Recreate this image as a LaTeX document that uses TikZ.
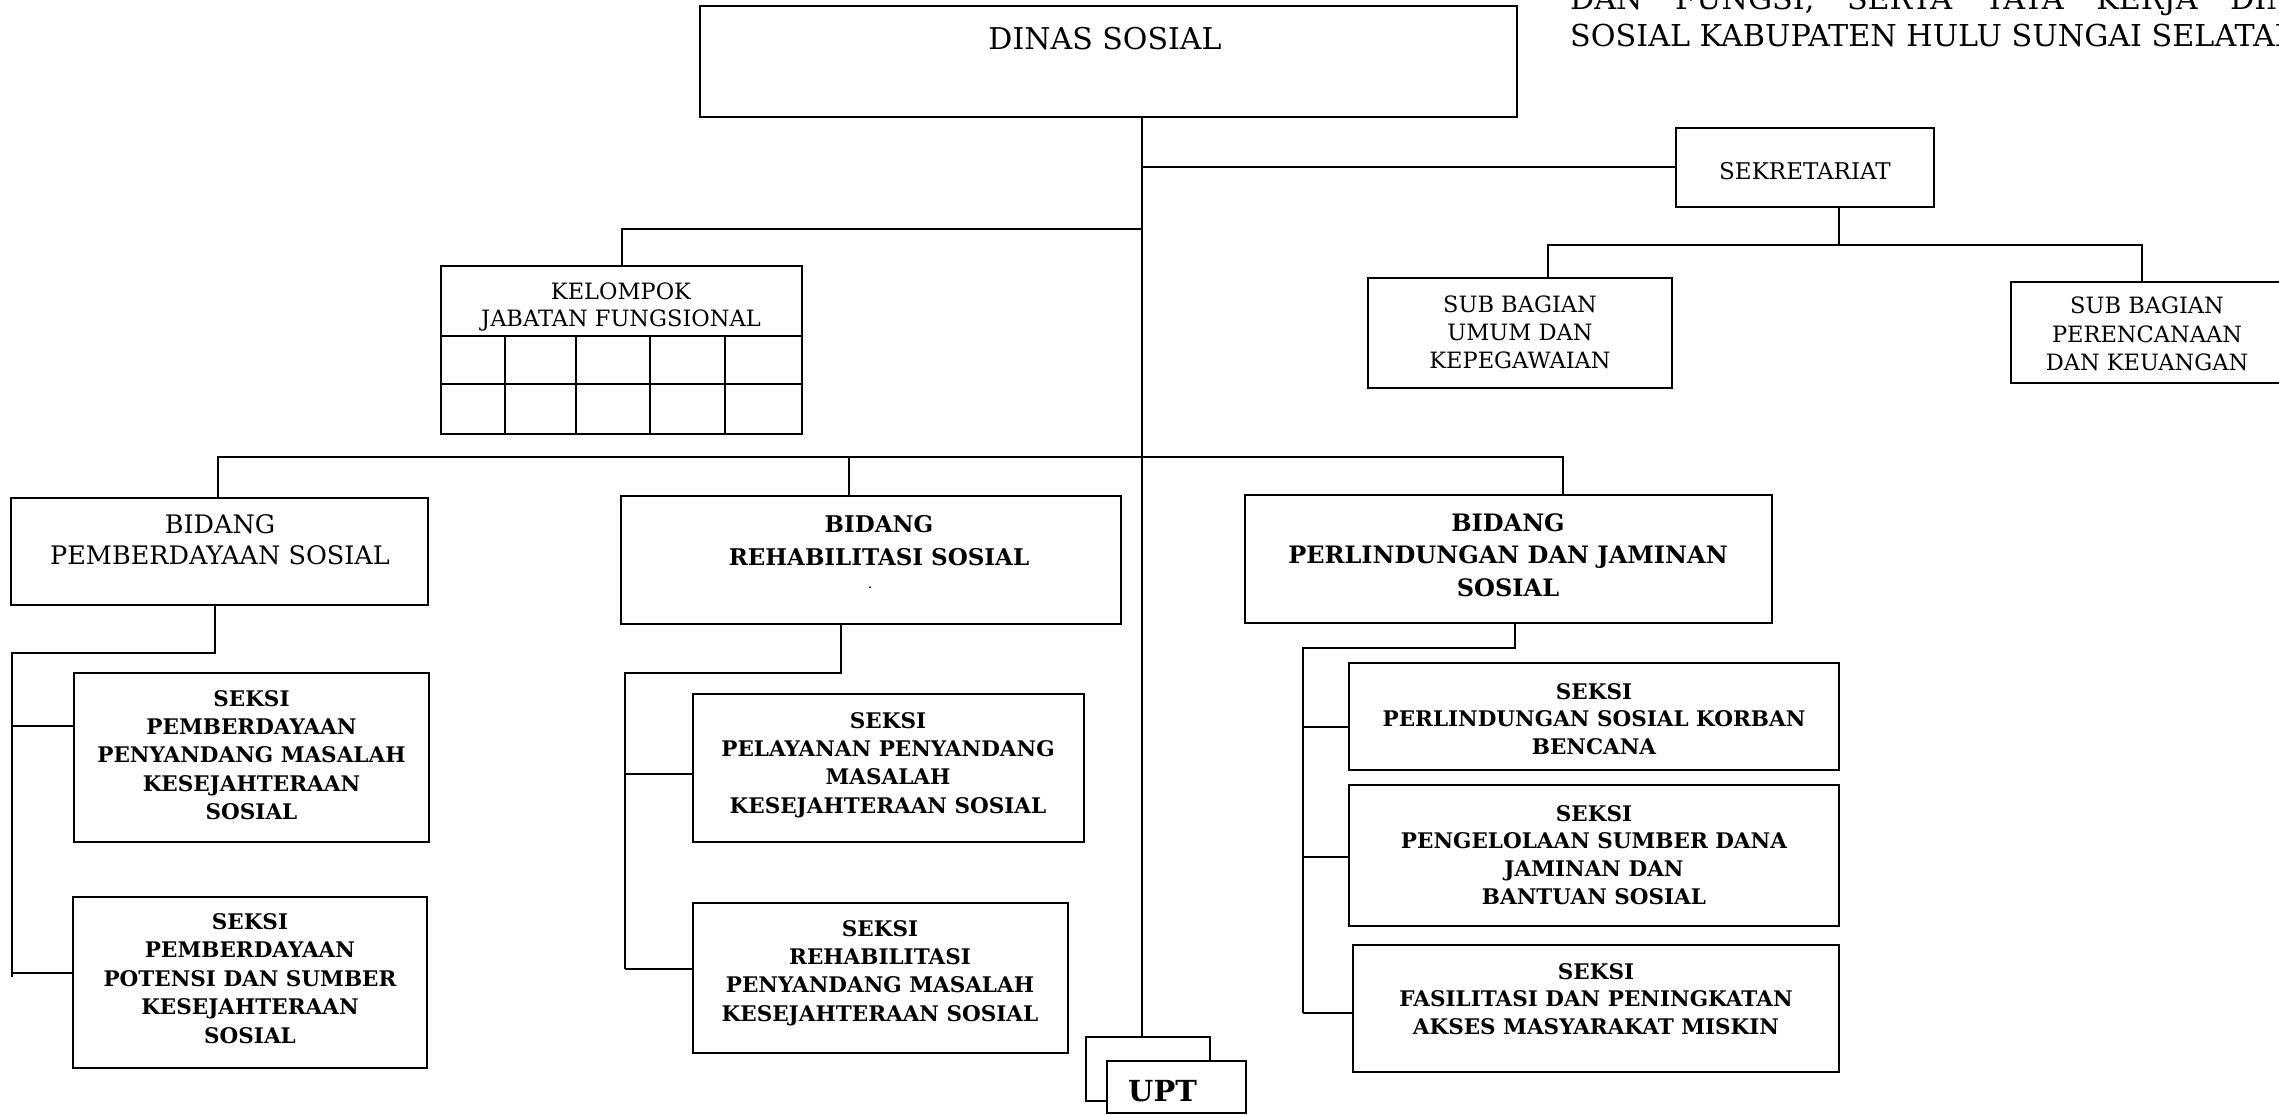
\documentclass[tikz,border=0pt]{standalone}
\usepackage{fontspec}
\setmainfont{DejaVu Serif}
\usetikzlibrary{fit}
\newcommand\fsz[2]{\fontsize{#1}{#2}\selectfont}
\tikzset{
  box/.style={draw, line width=2.4pt, inner sep=0pt, fill=white},
  conn/.style={draw, line width=2pt},
  lbl/.style={inner sep=0pt, align=center, anchor=north},
  bd/.style={lbl, font=\fsz{21.5}{#1}\bfseries},
}
\begin{document}
\begin{tikzpicture}[x=1pt,y=-1pt]
\useasboundingbox (0,0) rectangle (2279,1115);
\clip (0,0) rectangle (2279,1115);
\fill[white] (0,0) rectangle (2279,1115);

% header text (clipped)
\node[anchor=base west, inner sep=0pt, font=\fsz{30.2}{34}] (h1) at (1570,10) {\makebox[765pt][s]{DAN FUNGSI, SERTA TATA KERJA DINAS}};
\node[anchor=base west, inner sep=0pt, font=\fsz{30.2}{34}] (h2) at (1570,47) {SOSIAL KABUPATEN HULU SUNGAI SELATAN};

% boxes
\node[box, fit={(700,6) (1517,117)}] (dinas) {};
\node[box, fit={(1676,128) (1934,207)}] (sek) {};
\node[box, fit={(1368,278) (1672,388)}] (sbu) {};
\node[box, fit={(2011,282) (2290,383)}] (sbp) {};
\node[box, fit={(441,266) (802,434)}] (kel) {};
\node[box, fit={(11,498) (428,605)}] (bpem) {};
\node[box, fit={(621,496) (1121,624)}] (brehab) {};
\node[box, fit={(1245,495) (1772,623)}] (bperl) {};
\node[box, fit={(74,673) (429,842)}] (s1) {};
\node[box, fit={(73,897) (427,1068)}] (s2) {};
\node[box, fit={(693,694) (1084,842)}] (s3) {};
\node[box, fit={(693,903) (1068,1053)}] (s4) {};
\node[box, fit={(1349,663) (1839,770)}] (s5) {};
\node[box, fit={(1349,785) (1839,926)}] (s6) {};
\node[box, fit={(1353,945) (1839,1072)}] (s7) {};

% kelompok grid
\draw[line width=2.2pt] (kel.west |- 0,336) -- (kel.east |- 0,336);
\draw[line width=2.2pt] (kel.west |- 0,384) -- (kel.east |- 0,384);
\foreach \gx in {505,576,650,725} \draw[line width=2.2pt] (\gx,336) -- (\gx,434);

% connectors
\coordinate (tTop) at (1142,117);
\coordinate (kelJ) at (622,229);
\coordinate (busL) at (218,457);
\coordinate (busM) at (849,457);
\coordinate (busR) at (1563,457);
\coordinate (sekJ) at (1839,245);
\coordinate (sbuJ) at (1548,245);
\coordinate (sbpJ) at (2142,245);

\draw[conn] (tTop |- sek.west) -- (sek.west);
\draw[conn] (sekJ |- sek.south) -- (sekJ);
\draw[conn] (sbuJ |- sbu.north) -- (sbuJ) -- (sbpJ) -- (sbpJ |- sbp.north);
\draw[conn] (tTop |- kelJ) -- (kelJ) -- (kelJ |- kel.north);
\draw[conn] (busL |- bpem.north) -- (busL) -- (busR) -- (busR |- bperl.north);
\draw[conn] (busM) -- (busM |- brehab.north);

% pemberdayaan
\coordinate (pJ) at (215,653);
\coordinate (pS) at (12,653);
\draw[conn] (pJ |- bpem.south) -- (pJ) -- (pS) -- (12,977);
\draw[conn] (pS |- 0,726) -- (s1.west |- 0,726);
\draw[conn] (pS |- 0,973) -- (s2.west |- 0,973);

% rehabilitasi
\coordinate (rJ) at (841,673);
\coordinate (rS) at (625,673);
\draw[conn] (rJ |- brehab.south) -- (rJ) -- (rS) -- (625,969);
\draw[conn] (rS |- 0,774) -- (s3.west |- 0,774);
\draw[conn] (rS |- 0,969) -- (s4.west |- 0,969);

% perlindungan
\coordinate (lJ) at (1515,648);
\coordinate (lS) at (1303,648);
\draw[conn] (lJ |- bperl.south) -- (lJ) -- (lS) -- (1303,1013);
\draw[conn] (lS |- 0,727) -- (s5.west |- 0,727);
\draw[conn] (lS |- 0,857) -- (s6.west |- 0,857);
\draw[conn] (lS |- 0,1013) -- (s7.west |- 0,1013);

% UPT
\node[box, fit={(1086,1037) (1210,1101)}] (uptB) {};
\draw[conn] (tTop) -- (tTop |- uptB.north);
\node[box, fit={(1107,1061) (1246,1113)}] (uptF) {};

% texts
\node[lbl, font=\fsz{30}{36}] (dinasT) at (1105,27) {DINAS SOSIAL};
\node[lbl, font=\fsz{23}{30}] (sekT) at (1805,162) {SEKRETARIAT};
\node[lbl, font=\fsz{22.5}{27}] (kelT) at (621,283) {KELOMPOK\\JABATAN FUNGSIONAL};
\node[lbl, font=\fsz{22.5}{28}] (sbuT) at (1520,296) {SUB BAGIAN\\UMUM DAN\\KEPEGAWAIAN};
\node[lbl, font=\fsz{22.5}{28.5}] (sbpT) at (2147,297) {SUB BAGIAN\\PERENCANAAN\\DAN KEUANGAN};
\node[lbl, font=\fsz{25.5}{31}] (bpemT) at (220,514) {BIDANG\\PEMBERDAYAAN SOSIAL};

\node[lbl, font=\fsz{23}{33}\bfseries] (brehabT) at (879,515) {BIDANG\\REHABILITASI SOSIAL};
\node[inner sep=0pt, font=\fsz{14}{14}] (dotT) at (870,588) {.};
\node[lbl, font=\fsz{24}{32.5}\bfseries] (bperlT) at (1508,513) {BIDANG\\PERLINDUNGAN DAN JAMINAN\\SOSIAL};

\node[bd=28.3] (s1T) at (251.5,690) {SEKSI\\PEMBERDAYAAN\\PENYANDANG MASALAH\\KESEJAHTERAAN\\SOSIAL};
\node[bd=28.5] (s2T) at (250,913) {SEKSI\\PEMBERDAYAAN\\POTENSI DAN SUMBER\\KESEJAHTERAAN\\SOSIAL};
\node[bd=28.3] (s3T) at (888,712) {SEKSI\\PELAYANAN PENYANDANG\\MASALAH\\KESEJAHTERAAN SOSIAL};
\node[bd=28.3] (s4T) at (880,920) {SEKSI\\REHABILITASI\\PENYANDANG MASALAH\\KESEJAHTERAAN SOSIAL};
\node[bd=27.5] (s5T) at (1594,683) {SEKSI\\PERLINDUNGAN SOSIAL KORBAN\\BENCANA};
\node[bd=27.7] (s6T) at (1594,805) {SEKSI\\PENGELOLAAN SUMBER DANA\\JAMINAN DAN\\BANTUAN SOSIAL};
\node[bd=27.5] (s7T) at (1596,963) {SEKSI\\FASILITASI DAN PENINGKATAN\\AKSES MASYARAKAT MISKIN};

\node[anchor=base west, inner sep=0pt, font=\fsz{29}{30}\bfseries] (uptT) at (1128,1101) {UPT};
\end{tikzpicture}
\end{document}
